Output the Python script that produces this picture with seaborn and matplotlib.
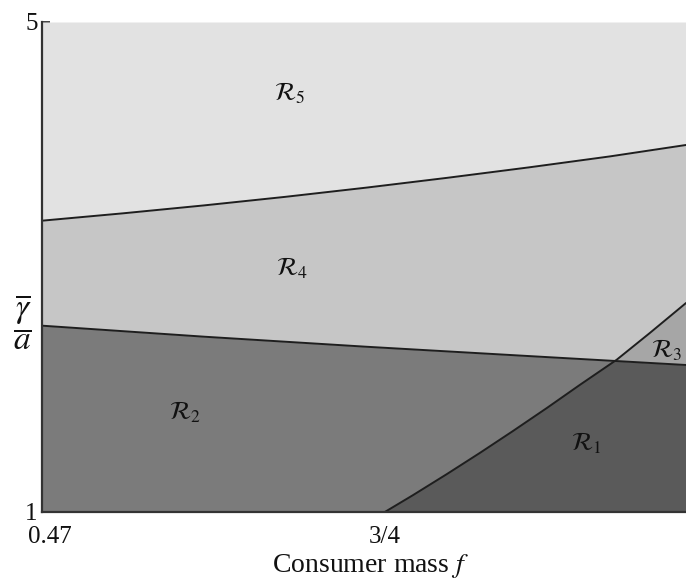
import numpy as np
import pandas as pd
import matplotlib
matplotlib.use("Agg")
import matplotlib.pyplot as plt
import matplotlib.transforms as mtransforms
import seaborn as sns

# Data ----------------------------------------------------------------------
# Upper boundary (R4 / R5)
upper_f = [0.47, 0.536, 0.6025, 0.669, 0.735, 0.801, 0.8675, 0.934, 0.996]
upper_g = [3.378, 3.438, 3.503, 3.573, 3.648, 3.728, 3.813, 3.903, 3.996]

# Lower boundary (R2 / R4, R1 / R3)
lower_f = [0.47, 0.6025, 0.735, 0.8675, 0.996]
lower_g = [2.521, 2.431, 2.349, 2.273, 2.200]

# Rising boundary (R1 / R2, R3 / R4)
rise_f = [0.75, 0.7729, 0.8006, 0.8276, 0.8545, 0.8822, 0.9092, 0.9394, 0.9663, 0.996]
rise_g = [1.0, 1.137, 1.309, 1.482, 1.660, 1.848, 2.037, 2.243, 2.460, 2.706]

region_labels = [r"$\mathcal{R}_5$", r"$\mathcal{R}_4$", r"$\mathcal{R}_2$",
                 r"$\mathcal{R}_1$", r"$\mathcal{R}_3$"]
label_f = [0.672, 0.674, 0.587, 0.9146, 0.98]
label_g = [4.42, 2.99, 1.816, 1.561, 2.32]

xticks = [0.47, 0.75]
xtick_labels = ["0.47", "3/4"]
yticks = [1, 5]
ytick_labels = ["1", "5"]

# Colours
c_r5 = "#e2e2e2"
c_r4 = "#c6c6c6"
c_r2 = "#7b7b7b"
c_r1 = "#5a5a5a"
c_r3 = "#a6a6a6"
c_line = "#1e1e1e"

# Style ---------------------------------------------------------------------
sns.set_style("ticks")
plt.rcParams["font.family"] = ["Liberation Serif", "DejaVu Serif"]
plt.rcParams["mathtext.fontset"] = "stix"

fig = plt.figure(figsize=(6.86, 5.79), dpi=100)
ax = fig.add_axes([42 / 686, 67 / 579, 644 / 686, 490 / 579])

# Regions -------------------------------------------------------------------
ax.fill_between(upper_f, upper_g, 5, color=c_r5, linewidth=0)
ax.fill_between(upper_f, 1, upper_g, color=c_r4, linewidth=0)
ax.fill_between(lower_f, 1, lower_g, color=c_r2, linewidth=0)
below_rise = ax.fill_between(rise_f, 1, rise_g, color=c_r3, linewidth=0)
r1 = ax.fill_between(lower_f, 1, lower_g, color=c_r1, linewidth=0)
r1.set_clip_path(below_rise.get_paths()[0], ax.transData)

# Boundaries
curves = pd.concat([
    pd.DataFrame({"f": upper_f, "g": upper_g, "curve": "upper"}),
    pd.DataFrame({"f": lower_f, "g": lower_g, "curve": "lower"}),
    pd.DataFrame({"f": rise_f, "g": rise_g, "curve": "rise"}),
])
sns.lineplot(data=curves, x="f", y="g", units="curve", estimator=None,
             sort=False, color=c_line, linewidth=1.4, ax=ax)

for lab, xf, yg in zip(region_labels, label_f, label_g):
    ax.text(xf, yg, lab, fontsize=18, ha="center", va="center", color="#111111")

# Axes ----------------------------------------------------------------------
ax.set_xlim(0.47, 0.996)
ax.set_ylim(1, 5)
ax.set_xticks(xticks)
ax.set_xticklabels(xtick_labels)
ax.set_yticks(yticks)
ax.set_yticklabels(ytick_labels)
ax.tick_params(direction="in", length=6, width=1.3, color="#333333",
               labelsize=18)
ax.tick_params(axis="x", pad=10)
ax.tick_params(axis="y", pad=3)
for lab in ax.get_xticklabels() + ax.get_yticklabels():
    lab.set_color("#111111")
# "0.47" sits a little right of its tick in the reference
first = ax.get_xticklabels()[0]
first.set_transform(first.get_transform() +
                    mtransforms.ScaledTranslation(8 / 100, 0, fig.dpi_scale_trans))

sns.despine(ax=ax, top=True, right=True)
for side in ["left", "bottom"]:
    ax.spines[side].set_color("#333333")
    ax.spines[side].set_linewidth(1.6)

ax.set_xlabel(r"Consumer mass $f$", fontsize=20, color="#111111", labelpad=3)
ax.xaxis.label.set_x(0.5 + 7 / 644)
ax.set_ylabel("")
fig.text(22 / 686, 1 - 322 / 579, r"$\dfrac{\overline{\gamma}}{a}$",
         fontsize=24, ha="center", va="center", color="#111111")

fig.savefig("out.png", dpi=100)
